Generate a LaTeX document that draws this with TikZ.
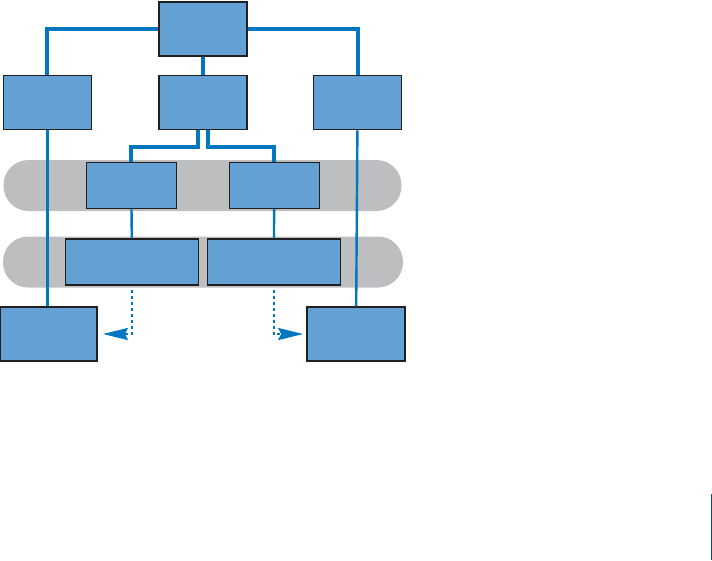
\documentclass[tikz,border=0pt]{standalone}
\usetikzlibrary{arrows.meta,positioning,calc}
\definecolor{boxblue}{HTML}{63A0D4}
\definecolor{linkblue}{HTML}{0077C0}
\definecolor{bandgray}{HTML}{BCBEC0}
\definecolor{edgegray}{HTML}{231F20}
\begin{document}
\begin{tikzpicture}[x=1pt,y=-1pt,
 box/.style={draw=edgegray,line width=1.6pt,fill=boxblue,inner sep=0pt,minimum width=88pt,minimum height=54pt},
 subbox/.style={draw=edgegray,line width=1.1pt,fill=boxblue,inner sep=0pt,minimum height=46pt},
 band/.style={fill=bandgray,rounded corners=25pt,inner sep=0pt,minimum height=51pt},
 link/.style={linkblue,line width=4pt},
 thinlink/.style={linkblue,line width=2.4pt},
 dotlink/.style={linkblue,line width=2.2pt,dash pattern=on 3pt off 3pt,-{Stealth[length=25pt,width=12pt,inset=3pt]}}]
\useasboundingbox (0,0) rectangle (712,560);
% gray bands
\node[band,minimum width=398pt] (band1) at (202.5,185.5) {};
\node[band,minimum width=400pt] (band2) at (203,262) {};
% boxes
\node[box] (top) at (203,29) {};
\node[box,below=18pt of top] (mid) {};
\node[box,left=66pt of mid] (left) {};
\node[box,right=65pt of mid] (right) {};
\node[subbox,minimum width=90pt] (a) at (131.3,185.3) {};
\node[subbox,minimum width=90pt] (b) at (274.3,185.3) {};
\node[subbox,minimum width=133pt] (c) at (132,262) {};
\node[subbox,minimum width=133pt] (d) at (273.8,262) {};
\node[box,minimum width=97pt] (botleft) at (48.6,334) {};
\node[box,minimum width=98pt] (botright) at (356,334) {};
% links
\draw[link] (top.west) -| (left.north);
\draw[link] (top.east) -| (right.north);
\draw[link] (top) -- (mid);
\draw[link] ([xshift=-5pt]mid.south) -- ++(0,17) -| (a.north);
\draw[link] ([xshift=5pt]mid.south) -- ++(0,17) -| (b.north);
\draw[thinlink] (a) -- (c);
\draw[thinlink] (b) -- (d);
\draw[thinlink] (left.south) -- (left.south |- botleft.north);
\draw[thinlink] (right) -- (botright);
\draw[dotlink] ([yshift=-4pt]c.south) |- ([xshift=5pt]botleft.east);
\draw[dotlink] ([yshift=-4pt]d.south) |- ([xshift=-3pt]botright.west);
\draw[line width=1pt,color=linkblue!70!black] (711.5,494) -- (711.5,560);
\end{tikzpicture}
\end{document}
